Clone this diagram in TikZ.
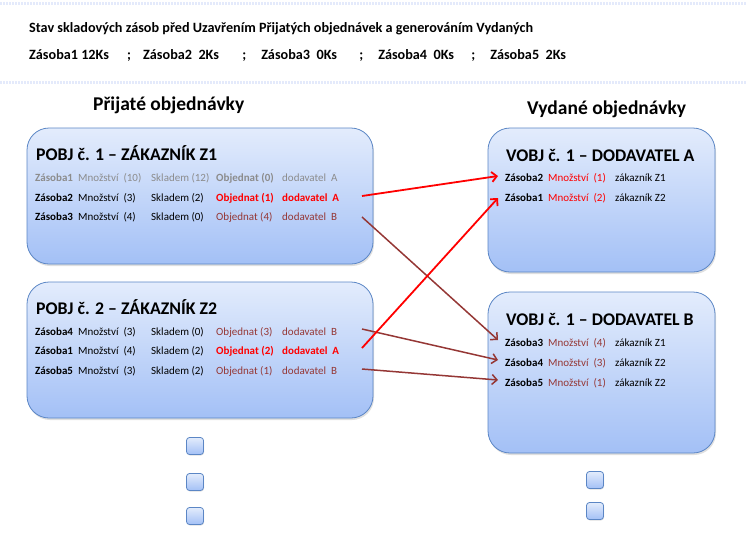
\documentclass[tikz,border=0pt]{standalone}
\usepackage{fontspec}
\setmainfont{Carlito}
\usetikzlibrary{arrows.meta,shadows}

\definecolor{modra}{HTML}{5B86C5}
\definecolor{svetla}{HTML}{E3ECFC}
\definecolor{tmava}{HTML}{A3C0F6}
\definecolor{cervena}{HTML}{FF0000}
\definecolor{hneda}{HTML}{953735}
\definecolor{seda}{HTML}{8C8C8C}
\definecolor{mlha}{HTML}{E4EAFB}

\newcommand{\pobjradek}[5]{\makebox[43pt][l]{\bfseries #1}\makebox[73pt][l]{#2}\makebox[65pt][l]{#3}\makebox[66pt][l]{#4}#5}
\newcommand{\vobjradek}[3]{\makebox[43pt][l]{\bfseries #1}\makebox[67pt][l]{#2}#3}

\begin{document}
\begin{tikzpicture}[x=1pt,y=-1pt,
        obj/.style={draw=modra, line width=0.8pt, rounded corners=22pt, top color=svetla, bottom color=tmava,
            drop shadow={opacity=0.25, shadow xshift=1pt, shadow yshift=-2pt}},
        ctverec/.style={draw=modra, line width=0.8pt, rounded corners=3pt, top color=svetla, bottom color=tmava,
            minimum size=17pt, inner sep=0pt, drop shadow={opacity=0.25, shadow xshift=0.5pt, shadow yshift=-1pt}},
        hlava/.style={anchor=base west, inner sep=0pt, font=\fontsize{14.2}{16}\selectfont\bfseries},
        sekce/.style={anchor=base west, inner sep=0pt, font=\fontsize{19.5}{22}\selectfont\bfseries},
        nadpis/.style={anchor=base west, inner sep=0pt, font=\fontsize{17.8}{20}\selectfont\bfseries},
        radek/.style={anchor=base west, inner sep=0pt, font=\fontsize{11}{13}\selectfont},
        mlhava/.style={mlha, line width=3pt, dash pattern=on 2pt off 1pt},
        cervenasipka/.style={cervena, line width=1.8pt, -{Straight Barb[length=5pt,width=10pt]}},
        hnedasipka/.style={hneda, line width=1.5pt, -{Straight Barb[length=5pt,width=10pt]}}]
                    \useasboundingbox (0,0) rectangle (746,558);

                    % zahlavi
                    \draw[mlhava] (0,3) -- (746,3);
                    \draw[mlhava] (0,82) -- (746,82);
                    \node[hlava] (hlavicka) at (29,32) {Stav skladových zásob před Uzavřením Přijatých objednávek a generováním Vydaných};
                    \node[hlava] (zasoby) at (29,59) {\makebox[98pt][l]{Zásoba1 12Ks}\makebox[16pt][l]{;}\makebox[99pt][l]{Zásoba2\ \ 2Ks}\makebox[19pt][l]{;}\makebox[98pt][l]{Zásoba3\ \ 0Ks}\makebox[19pt][l]{;}\makebox[93pt][l]{Zásoba4\ \ 0Ks}\makebox[19pt][l]{;}Zásoba5\ \ 2Ks};

                    \node[sekce] (prijate) at (93,110) {Přijaté objednávky};
                    \node[sekce] (vydane) at (527,114) {Vydané objednávky};

                    % prijate objednavky
                    \node[obj, minimum width=346, minimum height=136] (pobj1) at (200,196) {};
                    \node[obj, minimum width=346, minimum height=136] (pobj2) at (200,350) {};

                    \node[nadpis] (t1) at (36,160) {POBJ č. 1 – ZÁKAZNÍK Z1};
                    \node[radek, seda] (p1r1) at (35,181) {\pobjradek{Zásoba1}{Množství\ \ (10)}{Skladem (12)}{\bfseries Objednat (0)}{dodavatel\ \ A}};
                    \node[radek] (p1r2) at (35,201) {\pobjradek{Zásoba2}{Množství\ \ (3)}{Skladem (2)}{\color{cervena}\bfseries Objednat (1)}{\color{cervena}\bfseries dodavatel\ \ A}};
                    \node[radek] (p1r3) at (35,220) {\pobjradek{Zásoba3}{Množství\ \ (4)}{Skladem (0)}{\color{hneda}Objednat (4)}{\color{hneda}dodavatel\ \ B}};

                    \node[nadpis] (t2) at (36,314) {POBJ č. 2 – ZÁKAZNÍK Z2};
                    \node[radek] (p2r1) at (35,335) {\pobjradek{Zásoba4}{Množství\ \ (3)}{Skladem (0)}{\color{hneda}Objednat (3)}{\color{hneda}dodavatel\ \ B}};
                    \node[radek] (p2r2) at (35,354) {\pobjradek{Zásoba1}{Množství\ \ (4)}{Skladem (2)}{\color{cervena}\bfseries Objednat (2)}{\color{cervena}\bfseries dodavatel\ \ A}};
                    \node[radek] (p2r3) at (35,374) {\pobjradek{Zásoba5}{Množství\ \ (3)}{Skladem (2)}{\color{hneda}Objednat (1)}{\color{hneda}dodavatel\ \ B}};

                    % vydane objednavky
                    \node[obj, minimum width=227, minimum height=144] (vobja) at (601.5,200) {};
                    \node[obj, minimum width=227, minimum height=161] (vobjb) at (601.5,372.5) {};

                    \node[nadpis] (ta) at (506,161) {VOBJ č. 1 – DODAVATEL A};
                    \node[radek] (var1) at (505,181) {\vobjradek{Zásoba2}{\color{cervena}Množství\ \ (1)}{zákazník Z1}};
                    \node[radek] (var2) at (505,201) {\vobjradek{Zásoba1}{\color{cervena}Množství\ \ (2)}{zákazník Z2}};

                    \node[nadpis] (tb) at (506,325) {VOBJ č. 1 – DODAVATEL B};
                    \node[radek] (vbr1) at (505,346) {\vobjradek{Zásoba3}{\color{hneda}Množství\ \ (4)}{zákazník Z1}};
                    \node[radek] (vbr2) at (505,366) {\vobjradek{Zásoba4}{\color{hneda}Množství\ \ (3)}{zákazník Z2}};
                    \node[radek] (vbr3) at (505,386) {\vobjradek{Zásoba5}{\color{hneda}Množství\ \ (1)}{zákazník Z2}};

                    % ctverecky
                    \node[ctverec] (c1) at (195,446) {};
                    \node[ctverec] (c2) at (195,482) {};
                    \node[ctverec] (c3) at (195,516) {};
                    \node[ctverec] (c4) at (595,480) {};
                    \node[ctverec] (c5) at (595,511) {};

                    % sipky
                    \coordinate (p1z2) at (362,196);
                    \coordinate (p1z3) at (362,217);
                    \coordinate (p2z4) at (362,329);
                    \coordinate (p2z1) at (362,348);
                    \coordinate (p2z5) at (362,369);
                    \coordinate (vaz2) at (498,176);
                    \coordinate (vaz1) at (498,198);
                    \coordinate (vbz3) at (498,340);
                    \coordinate (vbz4) at (498,360);
                    \coordinate (vbz5) at (498,380);

                    \draw[hnedasipka] (p1z3) -- (vbz3);
                    \draw[hnedasipka] (p2z4) -- (vbz4);
                    \draw[hnedasipka] (p2z5) -- (vbz5);
                    \draw[cervenasipka] (p1z2) -- (vaz2);
                    \draw[cervenasipka] (p2z1) -- (vaz1);

                \end{tikzpicture}
\end{document}
